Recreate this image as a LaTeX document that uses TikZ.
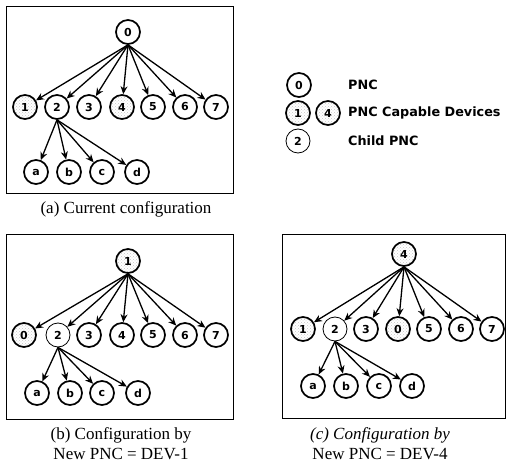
\documentclass[tikz,border=0pt]{standalone}
\usepackage{fontspec}
\setmainfont{Liberation Serif}
\newfontfamily\lblfont{DejaVu Sans}
\usetikzlibrary{arrows.meta,patterns}
\tikzset{
  dev/.style={circle, draw, line width=1.7pt, minimum size=24pt, inner sep=0pt,
    font=\lblfont\bfseries\fontsize{11}{11}\selectfont},
  capdev/.style={dev, pattern=crosshatch dots, pattern color=gray!45},
  childdev/.style={dev, line width=0.8pt},
  arr/.style={-{Stealth[length=8pt,width=7pt]}, line width=1.3pt},
  frame/.style={draw, line width=0.9pt},
  captxt/.style={font=\fontsize{17}{20}\selectfont, align=center, inner sep=0pt},
  legtxt/.style={font=\lblfont\bfseries\fontsize{12.8}{12.8}\selectfont, anchor=west, inner sep=0pt},
}
\begin{document}
\begin{tikzpicture}[x=1pt,y=-1pt]
\useasboundingbox (0,0) rectangle (506,465);
% ---------- panel (a) ----------
\draw[frame] (6,6) rectangle (233,193);
\node[dev] (ar) at (128,32) {0};
\node[capdev] (a1) at (25,107) {1};
\node[dev] (a2) at (57,107) {2};
\node[dev] (a3) at (89,107) {3};
\node[capdev] (a4) at (122,107) {4};
\node[dev] (a5) at (153,107) {5};
\node[dev] (a6) at (185,107) {6};
\node[dev] (a7) at (216,107) {7};
\node[dev] (aa) at (36,172) {a};
\node[dev] (ab) at (69,172) {b};
\node[dev] (ac) at (102,172) {c};
\node[dev] (ad) at (137,172) {d};
\foreach \c in {a1,a2,a3,a4,a5,a6,a7} \draw[arr] (ar.south) -- (\c);
\foreach \c in {aa,ab,ac,ad} \draw[arr] (a2.south) -- (\c);
\node[captxt] (capa) at (126,209) {(a) Current configuration};
% ---------- legend ----------
\node[dev] (l0) at (299,85) {0};
\node[capdev] (l1) at (298,113) {1};
\node[capdev] (l4) at (328,113) {4};
\node[childdev] (l2) at (298,141) {2};
\node[legtxt] (t0) at (348,85) {PNC};
\node[legtxt] (t1) at (348,113) {PNC Capable Devices};
\node[legtxt] (t2) at (348,141) {Child PNC};
% ---------- panel (b) ----------
\draw[frame] (6,234) rectangle (233,419);
\node[capdev] (br) at (128,261) {1};
\node[capdev] (b0) at (24,335) {0};
\node[childdev] (b2) at (58,335) {2};
\node[dev] (b3) at (89,335) {3};
\node[dev] (b4) at (122,335) {4};
\node[dev] (b5) at (153,335) {5};
\node[dev] (b6) at (185,335) {6};
\node[dev] (b7) at (216,335) {7};
\node[dev] (ba) at (37,393) {a};
\node[dev] (bb) at (70,393) {b};
\node[dev] (bc) at (102,393) {c};
\node[dev] (bd) at (138,393) {d};
\foreach \c in {b0,b2,b3,b4,b5,b6,b7} \draw[arr] (br.south) -- (\c);
\foreach \c in {ba,bb,bc,bd} \draw[arr] (b2.south) -- (\c);
\node[captxt] (capb) at (121,444) {(b) Configuration by\\New PNC = DEV-1};
% ---------- panel (c) ----------
\draw[frame] (282,234) rectangle (505,418);
\node[capdev] (cr) at (404,254) {4};
\node[capdev] (c1) at (303,329) {1};
\node[childdev] (c2) at (335,329) {2};
\node[dev] (c3) at (366,329) {3};
\node[capdev] (c0) at (398,329) {0};
\node[dev] (c5) at (429,329) {5};
\node[dev] (c6) at (461,329) {6};
\node[dev] (c7) at (492,329) {7};
\node[dev] (ca) at (313,386) {a};
\node[dev] (cb) at (346,386) {b};
\node[dev] (cc) at (379,386) {c};
\node[dev] (cd) at (412,386) {d};
\foreach \c in {c1,c2,c3,c0,c5,c6,c7} \draw[arr] (cr.south) -- (\c);
\foreach \c in {ca,cb,cc,cd} \draw[arr] (c2.south) -- (\c);
\node[captxt] (capc) at (380,444) {\textit{(c) Configuration by}\\New PNC = DEV-4};
\end{tikzpicture}
\end{document}
